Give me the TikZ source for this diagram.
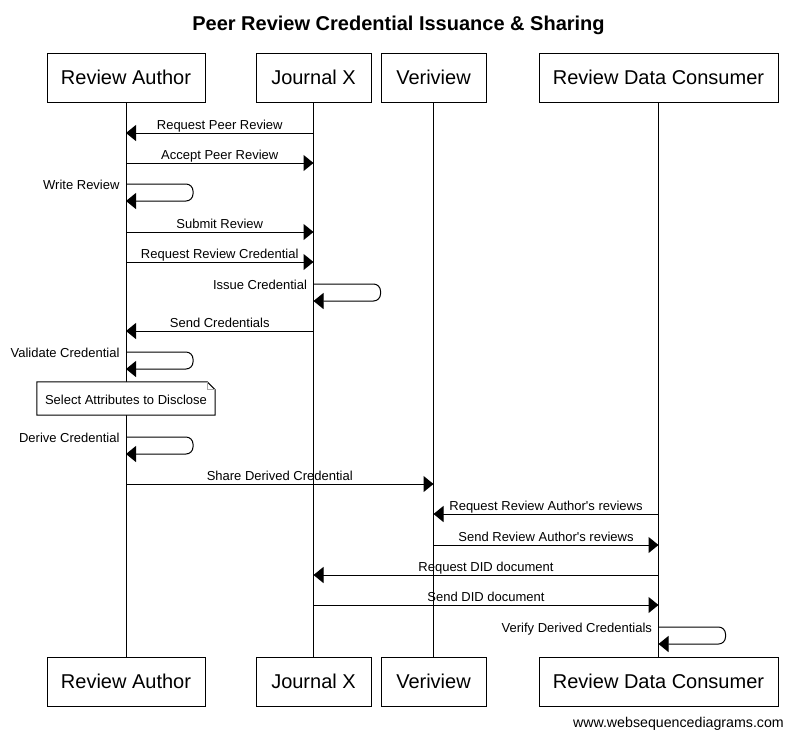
\documentclass[tikz,border=0pt]{standalone}
\usepackage{fontspec}
\setmainfont{Liberation Sans}
\usetikzlibrary{arrows.meta,calc}
\begin{document}
\begin{tikzpicture}[x=1pt,y=-1pt,
  actor/.style={draw, line width=1pt, fill=white, minimum height=49pt, inner sep=0pt, font=\fontsize{20}{24}\selectfont},
  lifeline/.style={line width=1pt},
  msg/.style={line width=1pt, -{Triangle[length=10pt,width=16pt]}},
  lbl/.style={font=\fontsize{13}{15}\selectfont, inner sep=0pt},
  selfloop/.style={msg, rounded corners=7pt},
  selflbl/.style={lbl, anchor=base east, xshift=-6pt, yshift=-5pt},
  msglbl/.style={lbl, anchor=base, yshift=4pt},
]
\useasboundingbox (0,0) rectangle (793,740);
\fill[white] (0,0) rectangle (793,740);

\node[font=\fontsize{20}{24}\selectfont\bfseries, anchor=base, inner sep=0pt] (title) at (398.5,30) {Peer Review Credential Issuance \& Sharing};

% actors top
\node[actor, minimum width=158pt] (ra) at (126,77.5) {Review Author};
\node[actor, minimum width=115pt] (jx) at (313.5,77.5) {Journal X};
\node[actor, minimum width=105pt] (vv) at (433.5,77.5) {Veriview};
\node[actor, minimum width=239pt] (rdc) at (658.5,77.5) {Review Data Consumer};
% actors bottom
\node[actor, minimum width=158pt] (rab) at (126,681.5) {Review Author};
\node[actor, minimum width=115pt] (jxb) at (313.5,681.5) {Journal X};
\node[actor, minimum width=105pt] (vvb) at (433.5,681.5) {Veriview};
\node[actor, minimum width=239pt] (rdcb) at (658.5,681.5) {Review Data Consumer};

% lifelines
\draw[lifeline] (ra.south) -- (rab.north);
\draw[lifeline] (jx.south) -- (jxb.north);
\draw[lifeline] (vv.south) -- (vvb.north);
\draw[lifeline] (rdc.south) -- (rdcb.north);

% messages
\draw[msg] (jx |- 0,133) -- node[msglbl] {Request Peer Review} (ra |- 0,133);
\draw[msg] (ra |- 0,163) -- node[msglbl] {Accept Peer Review} (jx |- 0,163);
\draw[selfloop] (ra |- 0,184) node[selflbl] {Write Review} -- ++(67,0) -- ++(0,17) -- (ra |- 0,201);
\draw[msg] (ra |- 0,232) -- node[msglbl] {Submit Review} (jx |- 0,232);
\draw[msg] (ra |- 0,262) -- node[msglbl] {Request Review Credential} (jx |- 0,262);
\draw[selfloop] (jx |- 0,284) node[selflbl] {Issue Credential} -- ++(67,0) -- ++(0,17) -- (jx |- 0,301);
\draw[msg] (jx |- 0,331) -- node[msglbl] {Send Credentials} (ra |- 0,331);
\draw[selfloop] (ra |- 0,352) node[selflbl] {Validate Credential} -- ++(67,0) -- ++(0,17) -- (ra |- 0,369);

% note
\node[lbl, minimum width=178pt, minimum height=33pt] (note) at (126,398.5) {};
\draw[line width=1pt, fill=white] (note.north west) -- ($(note.north east)+(-8,0)$) -- ($(note.north east)+(0,8)$) -- (note.south east) -- (note.south west) -- cycle;
\draw[line width=1pt, gray!70] ($(note.north east)+(-8,0)$) -- ($(note.north east)+(-8,8)$) -- ($(note.north east)+(0,8)$);
\node[lbl] (notetext) at (126,399.5) {Select Attributes to Disclose};

\draw[selfloop] (ra |- 0,437) node[selflbl] {Derive Credential} -- ++(67,0) -- ++(0,17) -- (ra |- 0,454);
\draw[msg] (ra |- 0,484) -- node[msglbl] {Share Derived Credential} (vv |- 0,484);
\draw[msg] (rdc |- 0,514) -- node[msglbl] {Request Review Author\textquotesingle s reviews} (vv |- 0,514);
\draw[msg] (vv |- 0,545) -- node[msglbl] {Send Review Author\textquotesingle s reviews} (rdc |- 0,545);
\draw[msg] (rdc |- 0,575) -- node[msglbl] {Request DID document} (jx |- 0,575);
\draw[msg] (jx |- 0,605) -- node[msglbl] {Send DID document} (rdc |- 0,605);
\draw[selfloop] (rdc |- 0,627) node[selflbl] {Verify Derived Credentials} -- ++(67,0) -- ++(0,17) -- (rdc |- 0,644);

\node[font=\fontsize{14.2}{16}\selectfont, anchor=base east, inner sep=0pt] (wsd) at (784,727) {www.websequencediagrams.com};
\end{tikzpicture}
\end{document}
